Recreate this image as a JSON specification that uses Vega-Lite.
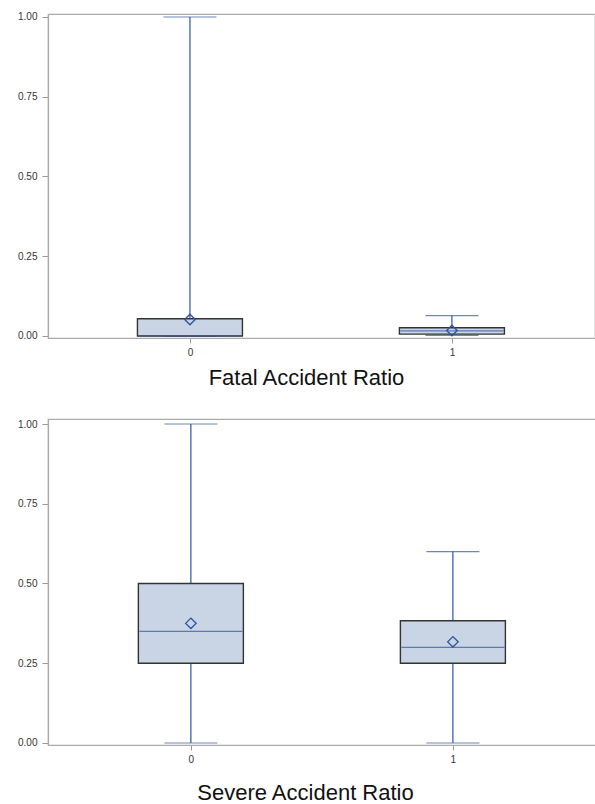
{
  "$schema": "https://vega.github.io/schema/vega-lite/v6.json",
  "padding": {"left": 16, "top": 11, "right": 0, "bottom": 0},
  "background": "white",
  "bounds": "flush",
  "spacing": 81,
  "config": {
    "view": {"stroke": "#ababab", "strokeWidth": 1.2},
    "axis": {
      "labelFont": "Liberation Sans",
      "labelFontSize": 10,
      "labelColor": "#333333",
      "tickColor": "#999999",
      "tickSize": 6,
      "labelPadding": 5,
      "domainColor": "#ababab",
      "domainWidth": 1.2,
      "grid": false
    }
  },
  "datasets": {
    "fatal": [
      {"group": "0", "lower": 0.0, "q1": 0.0, "median": 0.0, "q3": 0.054, "upper": 1.0, "mean": 0.052},
      {"group": "1", "lower": 0.002, "q1": 0.006, "median": 0.016, "q3": 0.026, "upper": 0.064, "mean": 0.017}
    ],
    "severe": [
      {"group": "0", "lower": 0.0, "q1": 0.25, "median": 0.35, "q3": 0.5, "upper": 1.0, "mean": 0.375},
      {"group": "1", "lower": 0.0, "q1": 0.25, "median": 0.3, "q3": 0.383, "upper": 0.6, "mean": 0.317}
    ]
  },
  "vconcat": [
    {
      "width": 547,
      "height": 324,
      "data": {"name": "fatal"},
      "encoding": {
        "x": {
          "field": "group", "type": "ordinal",
          "scale": {"type": "point", "padding": 0.544, "align": 0.498},
          "axis": {
            "labelAngle": 0,
            "labelPadding": 4,
            "tickSize": 5,
            "title": "Fatal Accident Ratio",
            "titleFont": "Liberation Sans",
            "titleFontSize": 22,
            "titleFontWeight": "normal",
            "titleColor": "#111111",
            "titleX": 258,
            "titleY": 46,
            "titleBaseline": "alphabetic",
            "titleAlign": "center"
          }
        }
      },
      "layer": [
        {
          "mark": {"type": "rule", "color": "#2f53a3", "strokeWidth": 1.2},
          "encoding": {
            "y": {"field": "lower", "type": "quantitative", "scale": {"domain": [-0.0063, 1.0094], "nice": false, "zero": false},
              "axis": {"values": [0, 0.25, 0.5, 0.75, 1], "format": ".2f", "title": null}},
            "y2": {"field": "upper"}
          }
        },
        {
          "mark": {"type": "tick", "color": "#2f53a3", "size": 53, "thickness": 1.2},
          "encoding": {"y": {"field": "lower", "type": "quantitative"}}
        },
        {
          "mark": {"type": "tick", "color": "#2f53a3", "size": 53, "thickness": 1.2},
          "encoding": {"y": {"field": "upper", "type": "quantitative"}}
        },
        {
          "mark": {"type": "bar", "width": 105, "fill": "#c9d5e5", "stroke": "#333333", "strokeWidth": 1.4},
          "encoding": {"y": {"field": "q1", "type": "quantitative"}, "y2": {"field": "q3"}}
        },
        {
          "mark": {"type": "tick", "color": "#2f53a3", "size": 103, "thickness": 1.2},
          "encoding": {"y": {"field": "median", "type": "quantitative"}}
        },
        {
          "mark": {"type": "point", "shape": "diamond", "filled": false, "size": 110, "stroke": "#2f53a3", "strokeWidth": 1.4, "opacity": 1},
          "encoding": {"y": {"field": "mean", "type": "quantitative"}}
        }
      ]
    },
    {
      "width": 556,
      "height": 326,
      "data": {"name": "severe"},
      "encoding": {
        "x": {
          "field": "group", "type": "ordinal",
          "scale": {"type": "point", "padding": 0.561, "align": 0.486},
          "axis": {
            "labelAngle": 0,
            "labelPadding": 4,
            "tickSize": 5,
            "title": "Severe Accident Ratio",
            "titleFont": "Liberation Sans",
            "titleFontSize": 22,
            "titleFontWeight": "normal",
            "titleColor": "#111111",
            "titleX": 257,
            "titleY": 54,
            "titleBaseline": "alphabetic",
            "titleAlign": "center"
          }
        }
      },
      "layer": [
        {
          "mark": {"type": "rule", "color": "#2f53a3", "strokeWidth": 1.2},
          "encoding": {
            "y": {"field": "lower", "type": "quantitative", "scale": {"domain": [-0.0063, 1.0157], "nice": false, "zero": false},
              "axis": {"values": [0, 0.25, 0.5, 0.75, 1], "format": ".2f", "title": null}},
            "y2": {"field": "upper"}
          }
        },
        {
          "mark": {"type": "tick", "color": "#2f53a3", "size": 53, "thickness": 1.2},
          "encoding": {"y": {"field": "lower", "type": "quantitative"}}
        },
        {
          "mark": {"type": "tick", "color": "#2f53a3", "size": 53, "thickness": 1.2},
          "encoding": {"y": {"field": "upper", "type": "quantitative"}}
        },
        {
          "mark": {"type": "bar", "width": 105, "fill": "#c9d5e5", "stroke": "#333333", "strokeWidth": 1.4},
          "encoding": {"y": {"field": "q1", "type": "quantitative"}, "y2": {"field": "q3"}}
        },
        {
          "mark": {"type": "tick", "color": "#2f53a3", "size": 103, "thickness": 1.2},
          "encoding": {"y": {"field": "median", "type": "quantitative"}}
        },
        {
          "mark": {"type": "point", "shape": "diamond", "filled": false, "size": 110, "stroke": "#2f53a3", "strokeWidth": 1.4, "opacity": 1},
          "encoding": {"y": {"field": "mean", "type": "quantitative"}}
        }
      ]
    }
  ]
}
